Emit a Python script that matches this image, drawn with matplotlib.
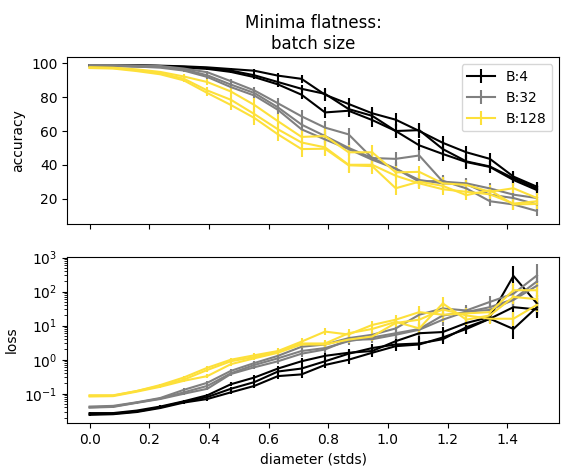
import numpy as np
import matplotlib
matplotlib.use("Agg")
import matplotlib.pyplot as plt

# 20 evaluation diameters
diam = np.linspace(0, 1.5, 20)

batch_labels = ['B:4', 'B:32', 'B:128']
batch_colors = ['black', 'gray', '#fde03a']

# accuracy, three runs per batch size
acc_b4 = [
    [99, 99, 99, 98.7, 98.3, 97.7, 96.7, 95.7, 92.8, 90.9, 81.5, 76, 70.5, 66.7, 60, 53, 47.4, 43.5, 33, 27],
    [99, 99, 98.8, 98.5, 98, 97.3, 95.8, 93, 89, 85, 82, 73, 69, 60, 60.5, 49.3, 42, 39, 32, 26],
    [98.6, 98.5, 98.3, 98, 97.5, 96.8, 95, 91.9, 87.6, 81.5, 71, 72, 66.5, 60, 51.5, 46.4, 41.6, 38.7, 31, 25],
]
acc_b32 = [
    [99, 99, 98.8, 98.5, 97, 94.8, 89.5, 84, 76.4, 68.7, 62, 58, 44, 43.5, 45.5, 30, 29, 26, 22.3, 20.3],
    [98.9, 98.8, 98.5, 98, 96.5, 93, 87.5, 82.5, 74, 63.8, 57, 50, 44, 37.7, 31, 29, 28.5, 22.3, 20.3, 16.5],
    [98.8, 98.6, 98.2, 97.5, 95.8, 92, 86, 81, 72.5, 61, 55, 49.3, 43, 37.7, 30, 30.5, 26, 18.4, 16.5, 12.6],
]
acc_b128 = [
    [97.8, 97.5, 96.5, 95, 92.3, 89, 83.4, 75.4, 65.8, 56.5, 57, 47.4, 47.4, 35.5, 35.8, 29, 28.1, 24, 26.1, 20.3],
    [97.5, 97.3, 96, 94.2, 91, 84, 78.5, 70, 61, 53.2, 50.3, 40, 40, 33.5, 29, 25.5, 24, 22.5, 17, 18.4],
    [97.3, 97, 95.5, 93.6, 90, 82.5, 75.4, 67.7, 58, 49.3, 49.5, 39.7, 39.2, 26.1, 30, 27.5, 22, 25, 16.5, 16.8],
]
acc_err_b4 = [0.1, 0.1, 0.1, 0.2, 0.3, 0.5, 0.8, 1.2, 1.8, 2.5, 3.5, 3.5, 4, 4, 4, 4, 4, 3.5, 3.5, 3]
acc_err_b32 = [0.1, 0.1, 0.2, 0.3, 0.6, 1, 1.5, 2, 3, 3.5, 4, 4, 4, 4, 3.5, 3.5, 3, 3, 3, 3]
acc_err_b128 = [0.1, 0.2, 0.3, 0.6, 1.2, 2, 3, 4, 4, 4.5, 4.5, 4.5, 4.5, 4, 3.5, 3.5, 3, 3, 3, 3]

# loss, three runs per batch size
loss_b4 = [
    [0.027, 0.027, 0.032, 0.042, 0.06, 0.09, 0.19, 0.3, 0.55, 0.9, 1.3, 1.6, 1.8, 3.5, 6, 6.5, 12, 18, 290, 45],
    [0.025, 0.026, 0.03, 0.04, 0.058, 0.08, 0.14, 0.22, 0.45, 0.55, 0.9, 1.5, 2.2, 2.8, 3, 4, 9, 16, 35, 30],
    [0.024, 0.025, 0.029, 0.038, 0.055, 0.07, 0.11, 0.17, 0.33, 0.37, 0.7, 1.0, 1.6, 2.5, 2.8, 4.5, 8, 16, 8, 35],
]
loss_b32 = [
    [0.042, 0.044, 0.056, 0.075, 0.13, 0.21, 0.47, 0.8, 1.3, 2.4, 2.8, 4.3, 5.4, 8.3, 21, 32, 28, 50, 87, 300],
    [0.04, 0.042, 0.055, 0.072, 0.11, 0.17, 0.4, 0.7, 1.1, 1.8, 2.2, 3.5, 4.5, 6, 8, 20, 25, 35, 60, 200],
    [0.039, 0.041, 0.054, 0.07, 0.1, 0.14, 0.38, 0.6, 0.9, 1.5, 2.0, 3.8, 4.0, 5.4, 7.6, 15, 26, 29, 57, 150],
]
loss_b128 = [
    [0.09, 0.09, 0.12, 0.18, 0.3, 0.58, 1.0, 1.35, 1.8, 3.4, 6.7, 5.5, 10.5, 15, 25, 21, 23, 25, 110, 110],
    [0.087, 0.088, 0.12, 0.17, 0.26, 0.5, 0.9, 1.2, 1.7, 3.0, 3, 6, 8, 13, 8.3, 45, 15, 20, 70, 60],
    [0.083, 0.085, 0.115, 0.16, 0.24, 0.33, 0.74, 1.1, 1.6, 2.8, 2.8, 3.9, 4.8, 12, 15, 30, 20, 16, 16, 41],
]
# relative (multiplicative) spread of the loss
loss_rel_err_b4 = [0.05, 0.05, 0.05, 0.08, 0.1, 0.12, 0.15, 0.15, 0.2, 0.25, 0.25, 0.3, 0.3, 0.35, 0.5, 0.4, 0.4, 0.35, 1.0, 0.8]
loss_rel_err_b32 = [0.05, 0.05, 0.05, 0.08, 0.1, 0.12, 0.12, 0.15, 0.2, 0.25, 0.25, 0.3, 0.3, 0.35, 0.5, 0.5, 0.4, 0.5, 0.6, 1.1]
loss_rel_err_b128 = [0.05, 0.05, 0.05, 0.08, 0.1, 0.12, 0.15, 0.15, 0.2, 0.25, 0.25, 0.3, 0.35, 0.35, 0.5, 0.6, 0.4, 0.4, 0.6, 0.6]

acc_all = [acc_b4, acc_b32, acc_b128]
acc_err_all = [acc_err_b4, acc_err_b32, acc_err_b128]
loss_all = [loss_b4, loss_b32, loss_b128]
loss_err_all = [loss_rel_err_b4, loss_rel_err_b32, loss_rel_err_b128]

fig, (ax1, ax2) = plt.subplots(2, 1, sharex=True, figsize=(5.65, 4.67), dpi=100)
fig.subplots_adjust(left=0.119, right=0.99, top=0.877, bottom=0.094, hspace=0.2)

for lab, col, accs, aerr, losses, lerr in zip(batch_labels, batch_colors, acc_all, acc_err_all, loss_all, loss_err_all):
    for k in range(3):
        ax1.errorbar(diam, accs[k], yerr=aerr, color=col, label=lab if k == 0 else None)
        l = np.array(losses[k])
        f = np.array(lerr)
        ax2.errorbar(diam, l, yerr=[l - l / (1 + f), l * f], color=col)

ax1.set_title('Minima flatness:\nbatch size')
ax1.set_ylabel('accuracy')
ax1.legend(loc='upper right')

ax2.set_yscale('log')
ax2.set_ylabel('loss')
ax2.set_xlabel('diameter (stds)')

fig.savefig('out.png')
